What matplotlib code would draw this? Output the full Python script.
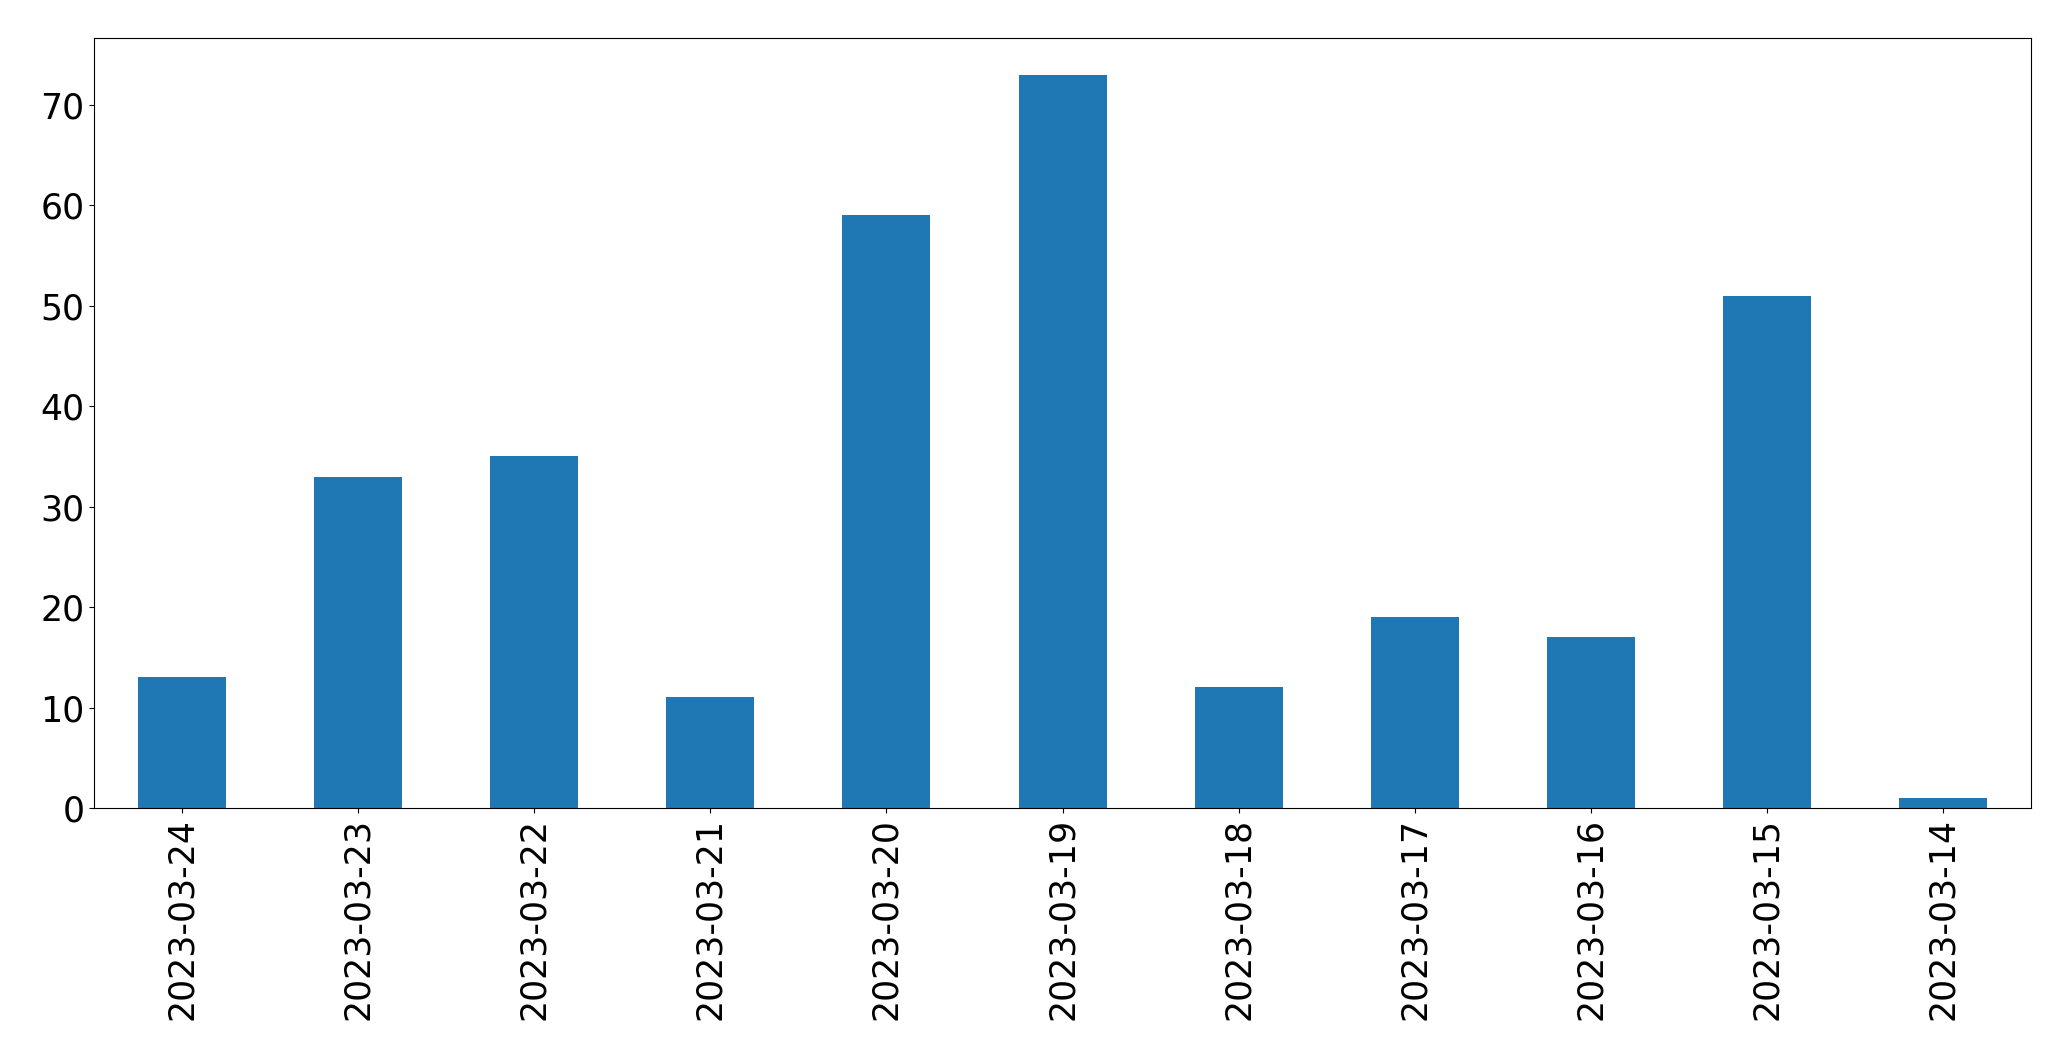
import matplotlib
matplotlib.use("Agg")
import matplotlib.pyplot as plt

dates = ["2023-03-24", "2023-03-23", "2023-03-22", "2023-03-21", "2023-03-20",
         "2023-03-19", "2023-03-18", "2023-03-17", "2023-03-16", "2023-03-15",
         "2023-03-14"]
counts = [13, 33, 35, 11, 59, 73, 12, 19, 17, 51, 1]

fig = plt.figure(figsize=(20.71, 10.61), dpi=100)
ax = fig.add_axes([0.0454, 0.2385, 0.9353, 0.7255])
x = list(range(len(dates)))
ax.bar(x, counts, width=0.5, color="#1f77b4")
ax.set_xlim(-0.5, len(dates) - 0.5)
ax.set_xticks(x)
ax.set_xticklabels(dates, rotation=90)
ax.tick_params(labelsize=25)
fig.savefig("out.png", dpi=100)
